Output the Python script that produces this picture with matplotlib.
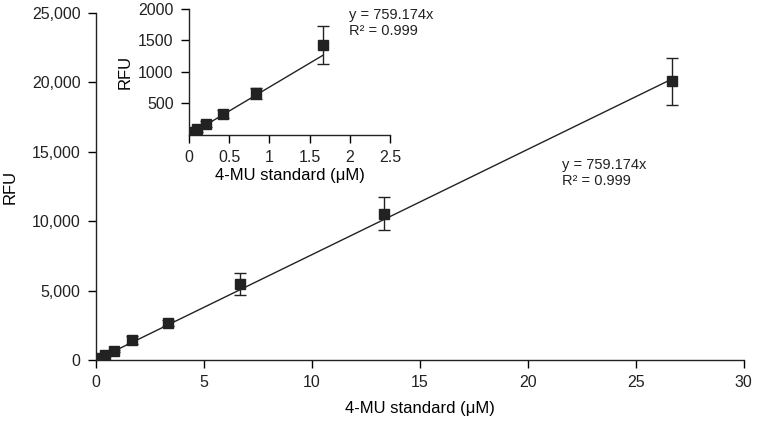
import matplotlib.pyplot as plt
from matplotlib.ticker import FuncFormatter

plt.rcParams['font.family'] = ['Liberation Sans', 'DejaVu Sans']
plt.rcParams['font.size'] = 11.5
plt.rcParams['text.color'] = '#222222'
plt.rcParams['xtick.labelcolor'] = '#222222'
plt.rcParams['ytick.labelcolor'] = '#222222'

# Standard curve data (4-MU, uM vs RFU)
conc = [0.052, 0.104, 0.208, 0.417, 0.833, 1.667, 3.333, 6.667, 13.333, 26.667]
rfu = [40, 90, 170, 330, 660, 1430, 2660, 5450, 10550, 20100]
err = [30, 40, 50, 60, 90, 300, 220, 800, 1200, 1700]

# Inset uses the low concentration points
inset_n = 6
slope = 759.174

main_xticks = [0, 5, 10, 15, 20, 25, 30]
main_yticks = [0, 5000, 10000, 15000, 20000, 25000]
inset_xticks = [0, 0.5, 1, 1.5, 2, 2.5]
inset_yticks = [500, 1000, 1500, 2000]

fig = plt.figure(figsize=(7.59, 4.23), dpi=100)
ax = fig.add_axes([0.1265, 0.149, 0.8535, 0.82])


def style(a):
    a.spines['top'].set_visible(False)
    a.spines['right'].set_visible(False)
    a.tick_params(direction='out', length=6, width=1, pad=5)
    for s in a.spines.values():
        s.set_linewidth(1)
        s.set_color('#222222')


# main plot
xfit = [0, conc[-1]]
ax.plot(xfit, [slope * v for v in xfit], color='#222222', lw=1)
ax.errorbar(conc, rfu, yerr=err, fmt='s', color='#222222', ms=6.5,
            capsize=4.3, elinewidth=1, capthick=1)
ax.set_xlim(0, 30)
ax.set_ylim(0, 25000)
ax.set_xticks(main_xticks)
ax.set_yticks(main_yticks)
ax.yaxis.set_major_formatter(FuncFormatter(lambda v, p: f'{int(v):,}'))
ax.set_xlabel('4-MU standard (μM)', fontsize=12, labelpad=8)
ax.set_ylabel('RFU', fontsize=12, labelpad=10)
ax.text(21.6, 13450, 'y = 759.174x\nR² = 0.999', fontsize=10.5, va='center',
        linespacing=1.2)
style(ax)

# inset
ins = fig.add_axes([0.249, 0.681, 0.265, 0.298])
xfit2 = [0, conc[inset_n - 1]]
ins.plot(xfit2, [slope * v for v in xfit2], color='#222222', lw=1)
ins.errorbar(conc[:inset_n], rfu[:inset_n], yerr=err[:inset_n], fmt='s',
             color='#222222', ms=6.5, capsize=4.3, elinewidth=1, capthick=1)
ins.set_xlim(0, 2.5)
ins.set_ylim(0, 2000)
ins.set_xticks(inset_xticks)
ins.set_yticks(inset_yticks)
ins.xaxis.set_major_formatter(FuncFormatter(lambda v, p: f'{v:g}'))
ins.set_xlabel('4-MU standard (μM)', fontsize=12, labelpad=2)
ins.set_ylabel('RFU', fontsize=12, labelpad=4)
ins.text(1.99, 1780, 'y = 759.174x\nR² = 0.999', fontsize=10.5, va='center',
         linespacing=1.2)
style(ins)

fig.savefig('out.png', dpi=100)
